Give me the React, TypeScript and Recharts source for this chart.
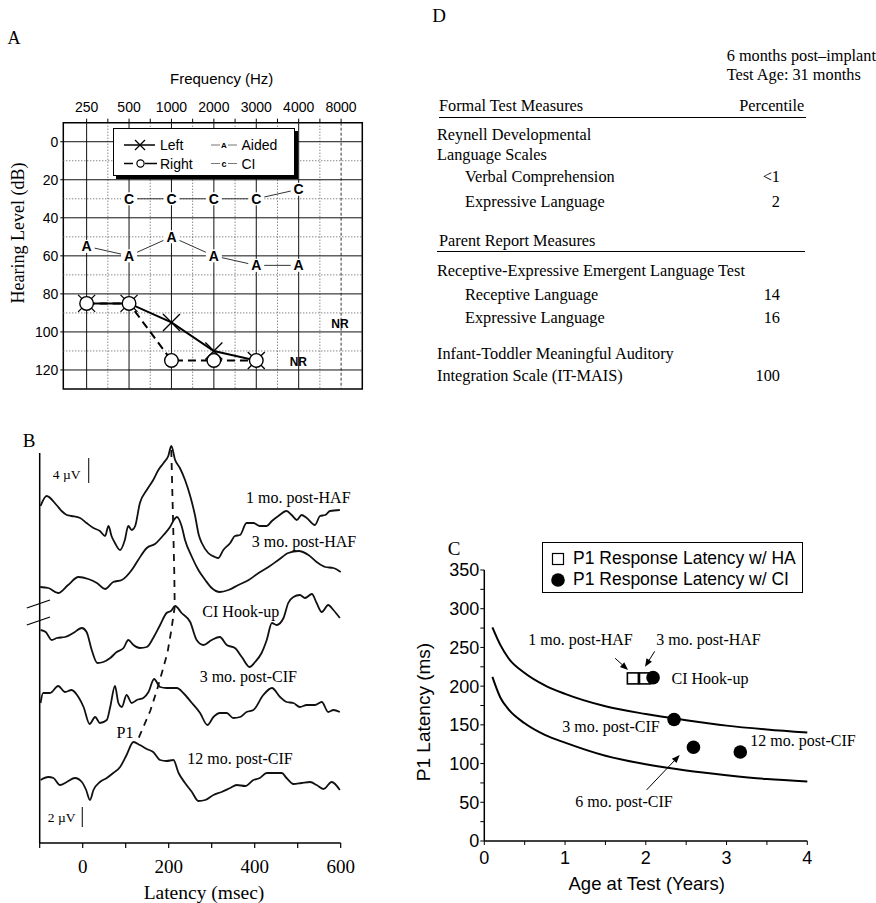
import React from "react";
import { ComposedChart, LineChart, Line, Scatter, XAxis, YAxis, ReferenceLine, ReferenceArea } from "recharts";

const SERIF = '"Liberation Serif", "Times New Roman", serif';
const SANS = '"Liberation Sans", Arial, sans-serif';

// ---------- panel A: audiogram ----------
const freqLabels = ["250", "500", "1000", "2000", "3000", "4000", "8000"];
const leftEar = [85, 85, 95, 110, 115, null, null];
const rightEar = [85, 85, 115, 115, 115, null, null];
const aidedHL = [55, 60, 50, 60, 65, 65, null];
const ciHL = [null, 30, 30, 30, 30, 25, null];
const dbMajor = [0, 20, 40, 60, 80, 100, 120];
const dbMinor = [10, 30, 50, 70, 90, 110];
const freqMajor = [0, 1, 2, 3, 4, 5];
const freqHalf = [0.5, 1.5, 2.5, 3.5, 4.5, 5.5];
const freqTicks = [0, 0.5, 1, 1.5, 2, 2.5, 3, 3.5, 4, 4.5, 5, 5.5, 6];

const audioRows = freqLabels.map((f, i) => ({
  idx: i,
  left: leftEar[i],
  right: rightEar[i],
  aided: aidedHL[i],
  ci: ciHL[i],
}));

// ---------- panel B: waveforms (latency ms, offset amplitude) ----------
const haf1 = [[-98,33.7],[-84,34.7],[-61,33.8],[-49,33.2],[-37,32.8],[-26,32.7],[-6,32.5],[9,32.0],[25,31.5],[40,31.2],[52,30.7],[60,31.7],[67,30.7],[75,30.0],[87,29.3],[98,30.3],[106,31.7],[114,31.3],[122,31.7],[133,34.0],[149,35.3],[164,36.3],[176,37.3],[188,38.0],[199,38.7],[206,39.7],[215,38.3],[226,37.5],[238,36.3],[250,34.7],[261,32.8],[270,30.8],[277,30.0],[292,29.0],[308,28.6],[315,28.5],[327,29.3],[343,30.0],[354,30.7],[366,30.8],[381,32.0],[397,32.0],[412,31.7],[428,31.7],[440,32.2],[455,32.7],[474,33.2],[486,32.8],[498,32.3],[509,32.8],[521,32.5],[540,31.8],[552,32.7],[564,32.8],[575,33.2],[598,33.3]];
const haf3 = [[-99,25.6],[-80,25.5],[-57,25.0],[-34,25.8],[-10,26.6],[13,26.4],[33,26.0],[52,25.4],[71,26.1],[91,26.3],[114,27.3],[129,28.3],[149,29.5],[168,29.9],[188,30.8],[203,31.6],[212,32.3],[219,32.6],[230,31.7],[238,30.3],[254,28.6],[269,27.3],[285,26.3],[300,25.5],[319,25.1],[339,25.3],[362,25.8],[386,26.3],[409,27.0],[432,27.6],[455,28.3],[478,29.0],[502,29.2],[525,28.8],[544,28.1],[564,27.6],[583,27.5],[600,27.1]];
const hookUp = [[-98,21.3],[-86,21.1],[-72,20.3],[-60,20.5],[-41,20.6],[-22,21.0],[-2,21.5],[9,21.1],[21,19.3],[34,18.0],[48,18.1],[64,18.5],[79,19.1],[95,19.5],[106,20.3],[118,19.8],[133,19.5],[149,19.6],[164,20.5],[180,21.8],[195,23.0],[205,23.2],[215,23.7],[230,23.0],[250,22.1],[265,20.3],[281,19.8],[300,20.3],[319,20.6],[335,19.8],[354,19.5],[370,18.6],[388,17.6],[401,18.1],[416,19.0],[428,20.3],[440,22.0],[451,21.8],[467,22.5],[478,24.0],[490,24.6],[505,24.8],[517,24.5],[533,24.9],[544,24.0],[556,23.1],[571,23.8],[583,23.3],[598,22.5]];
const cif3 = [[-98,14.0],[-92,15.0],[-76,15.0],[-57,15.7],[-41,15.1],[-26,15.3],[-10,14.6],[2,13.6],[16,11.9],[29,12.6],[40,12.0],[56,12.3],[64,13.6],[75,15.7],[83,14.0],[91,13.6],[102,14.8],[114,14.0],[126,14.3],[141,14.5],[153,15.1],[166,16.4],[180,15.6],[195,15.5],[219,15.5],[234,15.0],[254,14.0],[273,13.0],[290,11.8],[304,12.6],[319,13.0],[335,13.0],[350,12.5],[366,12.6],[381,13.1],[397,13.3],[420,14.8],[440,15.5],[459,14.6],[474,14.1],[490,14.0],[505,13.6],[521,13.8],[540,13.8],[556,14.1],[571,13.1],[583,13.3],[598,13.1]];
const cif12 = [[-98,6.3],[-80,6.6],[-68,6.5],[-53,5.8],[-37,6.1],[-18,6.5],[-2,6.1],[8,5.3],[17,4.3],[25,5.3],[40,6.1],[56,6.5],[71,7.0],[87,7.6],[102,8.8],[118,10.1],[133,9.8],[149,9.4],[164,9.1],[180,8.3],[195,8.2],[211,8.3],[223,7.0],[238,6.0],[254,5.1],[269,4.2],[285,4.3],[304,4.8],[323,5.1],[343,5.5],[358,5.8],[378,5.7],[397,6.3],[412,6.5],[428,7.0],[443,7.0],[463,7.0],[474,6.5],[490,5.9],[509,6.0],[529,6.1],[544,5.8],[560,5.4],[579,6.1],[598,5.3]];
const p1Track = [[206,39.3],[210,32.5],[213,27],[214,23.6],[205,21],[197,19],[186,17.3],[172,15.2],[157,13.2],[141,11.6],[126,10.1]];
const latencyTicks = [-100, 0, 100, 200, 300, 400, 500, 600];
const latencyLabels = [0, 200, 400, 600];

const toPts = (arr: number[][]) => arr.map(([t, v]) => ({ t, v }));

// ---------- panel C: P1 latency vs age ----------
const haAge = [1.84, 1.99];
const haLatency = [210, 210];
const ciAge = [2.09, 2.35, 2.59, 3.17];
const ciLatency = [211, 157, 121, 115];
const normAge = [0.1, 0.2, 0.3, 0.5, 0.75, 1, 1.5, 2, 2.5, 3, 3.5, 4];
const normUpper = [276, 253, 236, 217, 201, 190, 174, 164, 156, 149, 144, 140];
const normLower = [212, 185, 170, 152, 137, 127, 110, 99, 91, 85, 80, 77];
const arrowFrom = [[1.62, 236], [2.11, 245], [2.01, 66]];
const arrowTo = [[1.78, 221], [1.99, 225], [2.42, 111]];
const ageTicks = [0, 0.5, 1, 1.5, 2, 2.5, 3, 3.5, 4];
const latTicks = [0, 25, 50, 75, 100, 125, 150, 175, 200, 225, 250, 275, 300, 325, 350];

// ---------- panel D: table ----------
const tableRows: [string, string, number, number][] = [
  ["Reynell Developmental", "", 437, 135],
  ["Language Scales", "", 437, 155.3],
  ["Verbal Comprehension", "<1", 465, 176.7],
  ["Expressive Language", "2", 465, 201.7],
  ["Receptive-Expressive Emergent Language Test", "", 437, 270.7],
  ["Receptive Language", "14", 465, 295.3],
  ["Expressive Language", "16", 465, 317.7],
  ["Infant-Toddler Meaningful Auditory", "", 437, 354],
  ["Integration Scale (IT-MAIS)", "100", 437, 375.5],
];
const D_SIZE = 16.3;

type TP = {
  x: number; y: number; children: React.ReactNode; size?: number; font?: string;
  anchor?: "start" | "middle" | "end"; bold?: boolean; rotate?: boolean;
};
const Txt = ({ x, y, children, size = 16, font = SERIF, anchor = "start", bold, rotate }: TP) => {
  const tx = anchor === "middle" ? "-50%" : anchor === "end" ? "-100%" : "0";
  return (
    <div
      style={{
        position: "absolute", left: x, top: y,
        transform: `translate(${tx},-50%)${rotate ? " rotate(-90deg)" : ""}`,
        fontFamily: font, fontSize: size, lineHeight: 1, whiteSpace: "nowrap",
        fontWeight: bold ? 700 : 400, color: "#000",
      }}
    >
      {children}
    </div>
  );
};

const XDot = (p: any) => {
  const { cx, cy, index, value } = p;
  if (value == null || cx == null || cy == null) return <g key={`xd${index}`} />;
  const s = 8.5;
  return (
    <g key={`xd${index}`}>
      <line x1={cx - s} y1={cy - s} x2={cx + s} y2={cy + s} stroke="#000" strokeWidth={1.3} />
      <line x1={cx - s} y1={cy + s} x2={cx + s} y2={cy - s} stroke="#000" strokeWidth={1.3} />
    </g>
  );
};

const ODot = (p: any) => {
  const { cx, cy, index, value } = p;
  if (value == null || cx == null || cy == null) return <g key={`od${index}`} />;
  return <circle key={`od${index}`} cx={cx} cy={cy} r={6.8} fill="#fff" stroke="#000" strokeWidth={1.4} />;
};

const letterDot = (ch: string) => (p: any) => {
  const { cx, cy, index, value } = p;
  if (value == null || cx == null || cy == null) return <g key={`${ch}${index}`} />;
  return (
    <g key={`${ch}${index}`}>
      <rect x={cx - 8} y={cy - 6.5} width={16} height={13} fill="#fff" />
      <text x={cx} y={cy + 5} textAnchor="middle" fontFamily={SANS} fontWeight={700} fontSize={14} fill="#000">
        {ch}
      </text>
    </g>
  );
};

const arrowShape = (p: any) => {
  const { x1, y1, x2, y2 } = p;
  const a = Math.atan2(y2 - y1, x2 - x1);
  const L = 8, W = 3.2;
  const bx = x2 - L * Math.cos(a), by = y2 - L * Math.sin(a);
  const pts = `${x2},${y2} ${bx - W * Math.sin(a)},${by + W * Math.cos(a)} ${bx + W * Math.sin(a)},${by - W * Math.cos(a)}`;
  return (
    <g>
      <line x1={x1} y1={y1} x2={bx} y2={by} stroke="#000" strokeWidth={1} />
      <polygon points={pts} fill="#000" />
    </g>
  );
};

const SquareShape = (p: any) => (
  <rect x={p.cx - 5.5} y={p.cy - 5.5} width={11} height={11} fill="#fff" stroke="#000" strokeWidth={1.6} />
);
const DiscShape = (p: any) => <circle cx={p.cx} cy={p.cy} r={6.8} fill="#000" />;

function Audiogram() {
  return (
    <div style={{ position: "absolute", left: 0, top: 60 }}>
      <ComposedChart width={380} height={340} data={audioRows} margin={{ top: 32.7, right: 17.7, bottom: 11, left: 23.3 }}>
        <XAxis
          dataKey="idx" type="number" orientation="top" domain={[-0.55, 6.5]} ticks={freqTicks} interval={0}
          tickFormatter={(v: number) => (Number.isInteger(v) ? freqLabels[v] : "")}
          axisLine={false} tickLine={{ stroke: "#000" }} tickSize={4} tickMargin={7} height={30}
          tick={{ fontSize: 14, fontFamily: SANS, fill: "#000" }}
        />
        <YAxis
          type="number" domain={[-10, 130]} reversed ticks={dbMajor} interval={0} width={40}
          axisLine={false} tickLine={{ stroke: "#000" }} tickSize={3} tickMargin={2}
          tick={{ fontSize: 14, fontFamily: SANS, fill: "#000" }}
        />
        {dbMinor.map((v) => (
          <ReferenceLine key={`hm${v}`} y={v} stroke="#555" strokeWidth={1} strokeDasharray="1 2" />
        ))}
        {freqHalf.map((v) => (
          <ReferenceLine key={`vh${v}`} x={v} stroke="#555" strokeWidth={1} strokeDasharray="1 2" />
        ))}
        <ReferenceLine x={6} stroke="#333" strokeWidth={1} strokeDasharray="3 2" />
        {dbMajor.map((v) => (
          <ReferenceLine key={`hM${v}`} y={v} stroke="#111" strokeWidth={1} />
        ))}
        {freqMajor.map((v) => (
          <ReferenceLine key={`vM${v}`} x={v} stroke="#111" strokeWidth={1} />
        ))}
        <ReferenceArea x1={-0.55} x2={6.5} y1={-10} y2={130} fill="none" stroke="#000" strokeWidth={1.5} fillOpacity={0} />
        <Line dataKey="aided" stroke="#333" strokeWidth={1} dot={letterDot("A")} activeDot={false} isAnimationActive={false} />
        <Line dataKey="ci" stroke="#333" strokeWidth={1} dot={letterDot("C")} activeDot={false} isAnimationActive={false} />
        <Line dataKey="left" stroke="#000" strokeWidth={2} dot={XDot} activeDot={false} isAnimationActive={false} />
        <Line dataKey="right" stroke="#000" strokeWidth={2} strokeDasharray="8 5" dot={ODot} activeDot={false} isAnimationActive={false} />
      </ComposedChart>
    </div>
  );
}

function AudioLegend() {
  return (
    <>
      <div
        style={{
          position: "absolute", left: 112.5, top: 127.5, width: 180, height: 46,
          border: "1px solid #000", background: "#fff", boxShadow: "3px 3px 0 #000",
        }}
      />
      <svg style={{ position: "absolute", left: 120, top: 135 }} width={125} height={36}>
        <line x1={4} y1={10} x2={35} y2={10} stroke="#000" strokeWidth={1.5} />
        <line x1={15} y1={5} x2={25} y2={15} stroke="#000" strokeWidth={1.2} />
        <line x1={15} y1={15} x2={25} y2={5} stroke="#000" strokeWidth={1.2} />
        <line x1={4} y1={28.5} x2={13} y2={28.5} stroke="#000" strokeWidth={1.5} />
        <line x1={25} y1={28.5} x2={37} y2={28.5} stroke="#000" strokeWidth={1.5} />
        <circle cx={20.5} cy={28.5} r={3.6} fill="#fff" stroke="#000" strokeWidth={1.2} />
        <line x1={91} y1={10} x2={100} y2={10} stroke="#777" strokeWidth={1} />
        <line x1={108} y1={10} x2={117} y2={10} stroke="#777" strokeWidth={1} />
        <text x={104} y={13} textAnchor="middle" fontFamily={SANS} fontSize={8} fontWeight={700}>A</text>
        <line x1={91} y1={28.5} x2={100} y2={28.5} stroke="#777" strokeWidth={1} />
        <line x1={108} y1={28.5} x2={117} y2={28.5} stroke="#777" strokeWidth={1} />
        <text x={104} y={31.5} textAnchor="middle" fontFamily={SANS} fontSize={9} fontWeight={700}>c</text>
      </svg>
      <Txt x={160} y={145} size={14} font={SANS}>Left</Txt>
      <Txt x={160} y={163.5} size={14} font={SANS}>Right</Txt>
      <Txt x={241.5} y={145} size={14} font={SANS}>Aided</Txt>
      <Txt x={241.5} y={163.5} size={14} font={SANS}>CI</Txt>
    </>
  );
}

function Waveforms() {
  const traces = [haf1, haf3, hookUp, cif3, cif12];
  return (
    <div style={{ position: "absolute", left: 0, top: 430 }}>
      <LineChart width={360} height={473} margin={{ top: 13, right: 19.3, bottom: 30, left: 39.7 }}>
        <XAxis
          dataKey="t" type="number" domain={[-100, 600]} ticks={latencyTicks} interval={0}
          tickFormatter={(v: number) => (latencyLabels.includes(v) ? String(v) : "")}
          axisLine={{ stroke: "#000", strokeWidth: 1.5 }} tickLine={{ stroke: "#000", strokeWidth: 1.2 }}
          tickSize={5} tickMargin={12} height={30}
          tick={{ fontSize: 19, fontFamily: SERIF, fill: "#000" }}
        />
        <YAxis type="number" domain={[0, 40]} hide />
        <ReferenceLine segment={[{ x: -100, y: 0 }, { x: -100, y: 39 }]} stroke="#000" strokeWidth={1.5} ifOverflow="visible" />
        <ReferenceLine segment={[{ x: -130, y: 23.5 }, { x: -76, y: 24.3 }]} stroke="#000" strokeWidth={1.3} ifOverflow="visible" />
        <ReferenceLine segment={[{ x: -130, y: 21.8 }, { x: -76, y: 22.6 }]} stroke="#000" strokeWidth={1.3} ifOverflow="visible" />
        <ReferenceLine segment={[{ x: 14, y: 36 }, { x: 14, y: 38.5 }]} stroke="#000" strokeWidth={1} ifOverflow="visible" />
        <ReferenceLine segment={[{ x: -1, y: 1.6 }, { x: -1, y: 3.6 }]} stroke="#000" strokeWidth={1} ifOverflow="visible" />
        {traces.map((tr, i) => (
          <Line
            key={`tr${i}`} data={toPts(tr)} dataKey="v" type="monotone" stroke="#111" strokeWidth={1.8}
            dot={false} activeDot={false} isAnimationActive={false}
          />
        ))}
        <Line
          data={toPts(p1Track)} dataKey="v" type="linear" stroke="#111" strokeWidth={1.8} strokeDasharray="7 6"
          dot={false} activeDot={false} isAnimationActive={false}
        />
      </LineChart>
    </div>
  );
}

function LatencyPlot() {
  const haPts = haAge.map((x, i) => ({ x, y: haLatency[i] }));
  const ciPts = ciAge.map((x, i) => ({ x, y: ciLatency[i] }));
  const upper = normAge.map((x, i) => ({ x, y: normUpper[i] }));
  const lower = normAge.map((x, i) => ({ x, y: normLower[i] }));
  return (
    <div style={{ position: "absolute", left: 430, top: 520 }}>
      <ComposedChart width={446} height={383} margin={{ top: 50, right: 68.7, bottom: 22, left: 4.3 }}>
        <XAxis
          dataKey="x" type="number" domain={[0, 4]} ticks={ageTicks} interval={0}
          tickFormatter={(v: number) => (Number.isInteger(v) ? String(v) : "")}
          axisLine={{ stroke: "#000", strokeWidth: 1.5 }} tickLine={{ stroke: "#000" }}
          tickSize={4} tickMargin={6} height={40}
          tick={{ fontSize: 18, fontFamily: SANS, fill: "#000" }}
        />
        <YAxis
          dataKey="y" type="number" domain={[0, 350]} ticks={latTicks} interval={0} width={50}
          tickFormatter={(v: number) => (v % 50 === 0 ? String(v) : "")}
          axisLine={{ stroke: "#000", strokeWidth: 1.5 }} tickLine={{ stroke: "#000" }}
          tickSize={4} tickMargin={1}
          tick={{ fontSize: 18, fontFamily: SANS, fill: "#000" }}
        />
        <Line data={upper} dataKey="y" type="monotone" stroke="#000" strokeWidth={2} dot={false} activeDot={false} isAnimationActive={false} />
        <Line data={lower} dataKey="y" type="monotone" stroke="#000" strokeWidth={2} dot={false} activeDot={false} isAnimationActive={false} />
        {arrowFrom.map((f, i) => (
          <ReferenceLine
            key={`ar${i}`} segment={[{ x: f[0], y: f[1] }, { x: arrowTo[i][0], y: arrowTo[i][1] }]}
            stroke="#000" shape={arrowShape} ifOverflow="visible"
          />
        ))}
        <Scatter data={haPts} shape={SquareShape} isAnimationActive={false} />
        <Scatter data={ciPts} shape={DiscShape} isAnimationActive={false} />
      </ComposedChart>
    </div>
  );
}

function LatencyLegend() {
  return (
    <>
      <div style={{ position: "absolute", left: 541.7, top: 541.7, width: 259, height: 49, border: "1px solid #000", background: "#fff" }} />
      <svg style={{ position: "absolute", left: 548, top: 549 }} width={20} height={40}>
        <rect x={4.5} y={4.5} width={11} height={11} fill="#fff" stroke="#000" strokeWidth={1.2} />
        <circle cx={10} cy={31} r={6.8} fill="#000" />
      </svg>
      <Txt x={573} y={559} size={17.5} font={SANS}>P1 Response Latency w/ HA</Txt>
      <Txt x={573} y={580} size={17.5} font={SANS}>P1 Response Latency w/ CI</Txt>
    </>
  );
}

function LanguageTable() {
  return (
    <>
      <Txt x={439} y={15} size={19} anchor="middle">D</Txt>
      <Txt x={726.7} y={56} size={D_SIZE}>6 months post–implant</Txt>
      <Txt x={726.7} y={75} size={D_SIZE}>Test Age: 31 months</Txt>
      <Txt x={439} y={105.7} size={D_SIZE}>Formal Test Measures</Txt>
      <Txt x={804.3} y={105.7} size={D_SIZE} anchor="end">Percentile</Txt>
      <div style={{ position: "absolute", left: 439, top: 117, width: 367, borderTop: "1.5px solid #000" }} />
      <Txt x={439} y={240.7} size={D_SIZE}>Parent Report Measures</Txt>
      <div style={{ position: "absolute", left: 437.3, top: 251, width: 368, borderTop: "1.5px solid #000" }} />
      {tableRows.map(([name, pct, x, y], i) => (
        <React.Fragment key={`row${i}`}>
          <Txt x={x} y={y} size={D_SIZE}>{name}</Txt>
          {pct ? <Txt x={780} y={y} size={D_SIZE} anchor="end">{pct}</Txt> : null}
        </React.Fragment>
      ))}
    </>
  );
}

export default function App() {
  return (
    <div style={{ position: "absolute", left: 0, top: 0, width: 876, height: 903, background: "#fff", overflow: "hidden" }}>
      {/* A */}
      <Txt x={14} y={38} size={18} anchor="middle">A</Txt>
      <Txt x={221.7} y={78.3} size={15} font={SANS} anchor="middle">Frequency (Hz)</Txt>
      <Txt x={18} y={233} size={18} anchor="middle" rotate>Hearing Level (dB)</Txt>
      <Audiogram />
      <AudioLegend />
      <Txt x={340} y={323.5} size={12} font={SANS} bold anchor="middle">NR</Txt>
      <Txt x={298.3} y={361.7} size={12} font={SANS} bold anchor="middle">NR</Txt>

      {/* D */}
      <LanguageTable />

      {/* B */}
      <Waveforms />
      <Txt x={29} y={440} size={19} anchor="middle">B</Txt>
      <Txt x={66.7} y={475} size={13.5} anchor="middle">4 µV</Txt>
      <Txt x={61.7} y={817.7} size={13.5} anchor="middle">2 µV</Txt>
      <Txt x={298.3} y={498.3} anchor="middle">1 mo. post-HAF</Txt>
      <Txt x={304} y={541.7} anchor="middle">3 mo. post-HAF</Txt>
      <Txt x={240.8} y={611.7} anchor="middle">CI Hook-up</Txt>
      <Txt x={248.3} y={676.7} anchor="middle">3 mo. post-CIF</Txt>
      <Txt x={125} y={732.7} anchor="middle">P1</Txt>
      <Txt x={240} y={759} anchor="middle">12 mo. post-CIF</Txt>
      <Txt x={204} y={893.3} size={19.5} anchor="middle">Latency (msec)</Txt>

      {/* C */}
      <Txt x={454} y={548} size={19} anchor="middle">C</Txt>
      <LatencyPlot />
      <LatencyLegend />
      <Txt x={580.5} y={640} anchor="middle">1 mo. post-HAF</Txt>
      <Txt x={708.5} y={640} anchor="middle">3 mo. post-HAF</Txt>
      <Txt x={710} y={679} anchor="middle">CI Hook-up</Txt>
      <Txt x={611} y={727.3} anchor="middle">3 mo. post-CIF</Txt>
      <Txt x={803} y={740.7} anchor="middle">12 mo. post-CIF</Txt>
      <Txt x={624} y={801.7} anchor="middle">6 mo. post-CIF</Txt>
      <Txt x={646.7} y={884.3} size={18.5} font={SANS} anchor="middle">Age at Test (Years)</Txt>
      <Txt x={423.3} y={711.5} size={19} font={SANS} anchor="middle" rotate>P1 Latency (ms)</Txt>
    </div>
  );
}
